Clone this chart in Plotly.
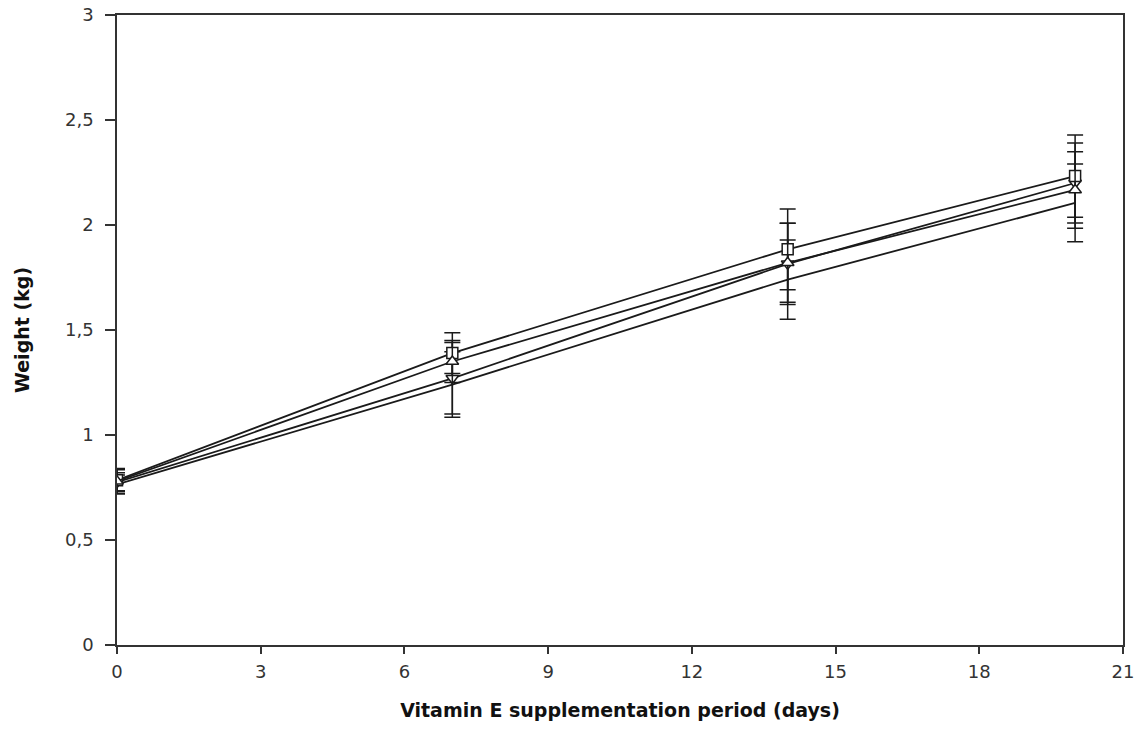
import plotly.graph_objects as go

days = [0, 7, 14, 20]

square_vals = [0.785, 1.39, 1.884, 2.233]
square_err = [0.05, 0.097, 0.192, 0.196]

tri_up_vals = [0.78, 1.35, 1.82, 2.167]
tri_up_err = [0.06, 0.10, 0.188, 0.182]

tri_down_vals = [0.775, 1.27, 1.815, 2.20]
tri_down_err = [0.045, 0.17, 0.193, 0.19]

plain_vals = [0.765, 1.24, 1.74, 2.105]
plain_err = [0.045, 0.156, 0.189, 0.185]

x_ticks = [0, 3, 6, 9, 12, 15, 18, 21]
y_ticks = [0, 0.5, 1, 1.5, 2, 2.5, 3]
y_tick_text = ["0", "0,5", "1", "1,5", "2", "2,5", "3"]

line_color = "#1a1a1a"

series = [
    ("plain", plain_vals, plain_err, None),
    ("tri_down", tri_down_vals, tri_down_err, "triangle-down"),
    ("square", square_vals, square_err, "square"),
    ("tri_up", tri_up_vals, tri_up_err, "triangle-up"),
]

fig = go.Figure()
for name, vals, errs, sym in series:
    fig.add_trace(go.Scatter(
        x=days, y=vals, name=name,
        mode="lines+markers" if sym else "lines",
        line=dict(color=line_color, width=1.8),
        marker=dict(symbol=sym or "circle", size=11, color="white",
                    line=dict(color=line_color, width=1.5)),
        error_y=dict(type="data", array=errs, visible=True,
                     color=line_color, thickness=1.5, width=8),
        showlegend=False,
    ))

axis_font = dict(family="DejaVu Sans, Arial, sans-serif", size=18, color="#333")
title_font = dict(family="DejaVu Sans, Arial, sans-serif", size=19, color="#111")

fig.update_layout(
    width=1141, height=732,
    margin=dict(l=117, r=18, t=15, b=87),
    plot_bgcolor="white", paper_bgcolor="white",
    xaxis=dict(
        range=[0, 21], tickvals=x_ticks, ticktext=[str(v) for v in x_ticks],
        showgrid=False, zeroline=False, showline=True, mirror=True,
        linecolor="#333", linewidth=1.5, automargin=False,
        ticks="outside", ticklen=7, tickwidth=1.5, tickcolor="#333",
        tickfont=axis_font, ticklabelstandoff=3,
        title=dict(text="<b>Vitamin E supplementation period (days)</b>",
                   font=title_font, standoff=22),
    ),
    yaxis=dict(
        range=[0, 3], tickvals=y_ticks, ticktext=y_tick_text,
        showgrid=False, zeroline=False, showline=True, mirror=True,
        linecolor="#333", linewidth=1.5, automargin=False,
        ticks="outside", ticklen=10, tickwidth=1.5, tickcolor="#333",
        tickfont=axis_font, ticklabelstandoff=8,
        title=dict(text="<b>Weight (kg)</b>", font=title_font, standoff=30),
    ),
)

fig.write_html("out.html")
